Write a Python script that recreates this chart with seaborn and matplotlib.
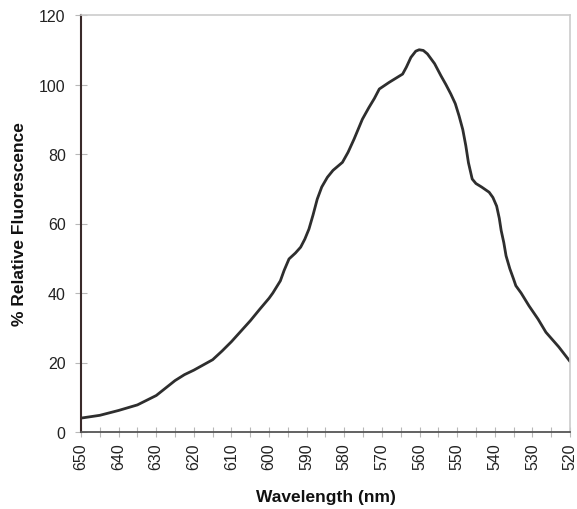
import matplotlib
matplotlib.use("Agg")
import matplotlib.pyplot as plt
import seaborn as sns
import pandas as pd

wavelength = [650, 645, 640, 635, 630, 625, 622.5, 620, 617.5, 615, 612.5, 610,
              607.5, 605, 602.5, 600, 599, 597, 596, 594.7, 593, 591.6, 590.5,
              589.4, 588.3, 587.2, 586, 584.5, 583, 580.5, 579, 577.4, 575.2,
              573.5, 572, 570.7, 568.1, 566, 564.5, 563.5, 562.3, 561, 560.1,
              559, 557.9, 556, 554.3, 553, 551.7, 550.5, 549.5, 548.5, 547.7,
              547, 546, 545, 543.5, 541.5, 540.5, 539.5, 538.8, 538.3, 537.6,
              537, 536, 535, 534.4, 533, 530.9, 528.5, 526.4, 523, 520]
fluorescence = [4.0, 4.8, 6.2, 7.8, 10.5, 14.8, 16.5, 17.8, 19.3, 20.8, 23.3, 26.0,
                29.0, 32.0, 35.3, 38.5, 40.0, 43.5, 46.5, 49.8, 51.5, 53.2, 55.5,
                58.4, 62.5, 67.0, 70.5, 73.3, 75.3, 77.6, 80.5, 84.3, 90.0,
                93.3, 96.0, 98.7, 100.6, 102.0, 103.0, 105.0, 107.8, 109.6, 110.0,
                109.8, 108.8, 106.0, 102.5, 100.0, 97.3, 94.5, 91.0, 87.0, 82.4,
                77.5, 72.8, 71.5, 70.5, 69.0, 67.5, 65.0, 61.5, 58.0, 54.5,
                50.7, 47.0, 44.0, 42.1, 40.0, 36.3, 32.5, 28.7, 24.5, 20.3]
x_ticks = list(range(650, 515, -10))
x_minor = list(range(650, 515, -5))
y_ticks = [0, 20, 40, 60, 80, 100, 120]

df = pd.DataFrame({"Wavelength": wavelength, "Fluorescence": fluorescence})

sns.set_style("white")
plt.rcParams['font.family'] = ['Liberation Sans', 'DejaVu Sans']

fig = plt.figure(figsize=(5.77, 5.10), dpi=100)
ax = fig.add_axes([81/577, 1 - 433/510, (570-81)/577, (433-16)/510])

sns.lineplot(data=df, x="Wavelength", y="Fluorescence", ax=ax,
             color="#2e2e2e", linewidth=2.0, sort=False)
ax.lines[0].set_solid_joinstyle("round")

ax.set_xlim(650, 520)
ax.set_ylim(0, 120)
ax.set_xticks(x_ticks)
ax.set_xticks(x_minor, minor=True)
ax.set_xticklabels([str(t) for t in x_ticks], rotation=90, fontsize=11.5, color="#222222")
ax.set_yticks(y_ticks)
ax.set_yticklabels([str(t) for t in y_ticks], fontsize=11.5, color="#222222")

ax.tick_params(axis="x", which="both", direction="inout", length=7, width=0.8,
               color="#b8b8b8", pad=4, bottom=True)
ax.tick_params(axis="y", which="major", direction="inout", length=8, width=0.8,
               color="#b8b8b8", pad=7, left=True)

for side in ["top", "right"]:
    ax.spines[side].set_visible(True)
    ax.spines[side].set_color("#cccccc")
    ax.spines[side].set_linewidth(1.2)
ax.spines["left"].set_color("#3a2a2a")
ax.spines["left"].set_linewidth(1.5)
ax.spines["bottom"].set_color("#555555")
ax.spines["bottom"].set_linewidth(1.3)

ax.set_xlabel("Wavelength (nm)", fontsize=12.5, fontweight="bold", color="#111111", labelpad=14)
ax.set_ylabel("% Relative Fluorescence", fontsize=12.5, fontweight="bold", color="#111111", labelpad=9)
ax.grid(False)

fig.savefig("out.png", dpi=100, facecolor="white")
